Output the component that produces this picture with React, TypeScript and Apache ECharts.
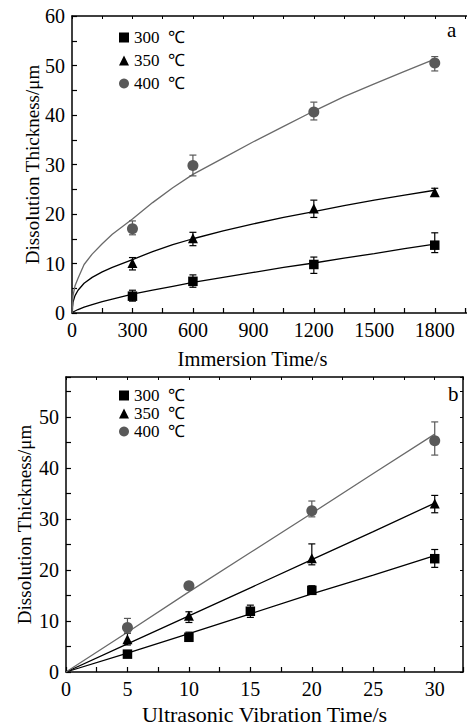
import React, { useEffect, useRef } from "react";
import * as echarts from "echarts";

// ---------- Panel a: immersion ----------
const aTimes = [300, 600, 1200, 1800];
const a300 = [3.4, 6.4, 9.8, 13.7];
const a300Lo = [2.4, 5.2, 8.0, 12.2];
const a300Hi = [4.6, 7.7, 11.3, 16.2];
const a350 = [10.1, 15.1, 21.1, 24.4];
const a350Lo = [8.7, 13.6, 19.3, 23.6];
const a350Hi = [11.2, 16.3, 22.8, 25.2];
const a400 = [17.0, 29.8, 40.6, 50.5];
const a400Lo = [15.8, 27.7, 39.0, 48.9];
const a400Hi = [18.6, 31.9, 42.6, 51.8];

const aFitT = [0, 5, 15, 30, 60, 100, 150, 200, 300, 400, 500, 600, 750, 900, 1050, 1200, 1350, 1500, 1650, 1800];
const aFit300 = [0, 0.2, 0.4, 0.7, 1.2, 1.7, 2.3, 2.8, 3.8, 4.6, 5.4, 6.2, 7.2, 8.2, 9.2, 10.1, 11.1, 12.0, 13.0, 13.9];
const aFit350 = [0, 2.2, 3.5, 4.6, 6.0, 7.2, 8.3, 9.2, 10.8, 12.4, 13.8, 15.0, 16.6, 18.0, 19.3, 20.5, 21.7, 22.8, 23.8, 24.8];
const aFit400 = [0, 3.5, 5.5, 7.0, 9.8, 11.9, 14.0, 15.9, 19.0, 22.3, 25.3, 28.0, 31.3, 34.6, 37.7, 40.8, 43.7, 46.3, 48.8, 51.3];

// ---------- Panel b: ultrasonic ----------
const b300Times = [5, 10, 15, 20, 30];
const b300 = [3.5, 6.8, 11.9, 16.0, 22.2];
const b300Lo = [3.0, 6.0, 10.7, 15.2, 20.5];
const b300Hi = [4.0, 7.8, 13.1, 16.9, 24.0];
const bTimes = [5, 10, 20, 30];
const b350 = [6.4, 11.0, 22.3, 33.0];
const b350Lo = [5.3, 9.7, 21.0, 31.2];
const b350Hi = [7.6, 11.8, 25.1, 34.6];
const b400 = [8.7, 16.9, 31.6, 45.3];
const b400Lo = [7.6, 16.2, 30.4, 42.5];
const b400Hi = [10.5, 17.5, 33.5, 49.0];

const bFitT = [0, 5, 10, 15, 20, 25, 30];
const bFit300 = [0, 3.7, 7.5, 11.4, 15.3, 19.0, 22.8];
const bFit350 = [0, 5.5, 11.0, 16.5, 22.0, 27.5, 33.1];
const bFit400 = [0, 7.8, 15.7, 23.4, 31.1, 38.9, 46.6];

const names = ["300  ℃", "350  ℃", "400  ℃"];
const aXTicks = [0, 300, 600, 900, 1200, 1500, 1800];
const bXTicks = [0, 5, 10, 15, 20, 25, 30];
const yTicksA = [0, 10, 20, 30, 40, 50, 60];
const yTicksB = [0, 10, 20, 30, 40, 50];

const FONT = "Liberation Serif";
const BLACK = "#000";
const GREY_MARK = "#595959";
const GREY_LINE = "#6a6a6a";

const zip = (xs: number[], ys: number[]) => xs.map((x, i) => [x, ys[i]]);
const zip3 = (xs: number[], lo: number[], hi: number[]) => xs.map((x, i) => [x, lo[i], hi[i]]);

function errSeries(name: string, idx: number, data: number[][], color: string) {
  return {
    name,
    type: "custom",
    xAxisIndex: idx,
    yAxisIndex: idx,
    encode: { x: 0, y: [1, 2] },
    data,
    z: 3,
    renderItem: (params: any, api: any) => {
      const x = api.value(0);
      const p1 = api.coord([x, api.value(1)]);
      const p2 = api.coord([x, api.value(2)]);
      const w = 3.5;
      const st = { stroke: color, lineWidth: 1.2 };
      return {
        type: "group",
        children: [
          { type: "line", shape: { x1: p1[0], y1: p1[1], x2: p2[0], y2: p2[1] }, style: st },
          { type: "line", shape: { x1: p1[0] - w, y1: p1[1], x2: p1[0] + w, y2: p1[1] }, style: st },
          { type: "line", shape: { x1: p2[0] - w, y1: p2[1], x2: p2[0] + w, y2: p2[1] }, style: st },
        ],
      };
    },
  };
}

function scatter(name: string, idx: number, data: number[][], symbol: string, size: number, color: string) {
  return {
    name,
    type: "scatter",
    xAxisIndex: idx,
    yAxisIndex: idx,
    symbol,
    symbolSize: size,
    itemStyle: { color, opacity: 1 },
    data,
    z: 4,
  };
}

function fit(name: string, idx: number, data: number[][], color: string) {
  return {
    name,
    type: "line",
    xAxisIndex: idx,
    yAxisIndex: idx,
    data,
    showSymbol: false,
    symbol: "none",
    lineStyle: { color, width: 1.3 },
    z: 2,
  };
}

function labelFmt(allowed: number[]) {
  return (v: number) => (allowed.some((a) => Math.abs(a - v) < 1e-6) ? String(v) : "");
}

const axisLine = { show: true, onZero: false, lineStyle: { color: BLACK, width: 1.5 } };
const labelStyle = { fontFamily: FONT, fontSize: 20, color: BLACK };
const legendText = { fontFamily: FONT, fontSize: 17, color: BLACK };

export default function App() {
  const ref = useRef<HTMLDivElement>(null);
  useEffect(() => {
    if (!ref.current) return;
    const chart = echarts.init(ref.current, undefined, { renderer: "svg" });
    const option: any = {
      animation: false,
      backgroundColor: "#fff",
      grid: [
        { left: 72, top: 16, width: 400, height: 297 },
        { left: 66, top: 377, width: 397, height: 296 },
      ],
      legend: [
        {
          data: names,
          orient: "vertical",
          left: 119,
          top: 29,
          padding: 0,
          itemWidth: 10,
          itemHeight: 10,
          itemGap: 6,
          textStyle: legendText,
        },
        {
          data: names,
          orient: "vertical",
          left: 119,
          top: 387,
          padding: 0,
          itemWidth: 10,
          itemHeight: 10,
          itemGap: 1,
          textStyle: legendText,
        },
      ],
      xAxis: [
        {
          type: "value", gridIndex: 0, min: 0, max: 1960, interval: 300,
          name: "Immersion Time/s", nameLocation: "middle", nameGap: 35, nameMoveOverlap: false,
          nameTextStyle: { fontFamily: FONT, fontSize: 20.5, color: BLACK, padding: [0, 34, 0, 0] },
          axisLine, axisTick: { inside: true, length: 5, lineStyle: { color: BLACK, width: 1.2 } },
          minorTick: { show: true, splitNumber: 2, length: 5, lineStyle: { color: BLACK, width: 1.2 } },
          axisLabel: { ...labelStyle, margin: 7, formatter: labelFmt(aXTicks), showMaxLabel: false },
          splitLine: { show: false },
        },
        {
          type: "value", gridIndex: 1, min: 0, max: 32.3, interval: 5,
          name: "Ultrasonic Vibration Time/s", nameLocation: "middle", nameGap: 31, nameMoveOverlap: false,
          nameTextStyle: { fontFamily: FONT, fontSize: 22, color: BLACK },
          axisLine, axisTick: { inside: true, length: 5, lineStyle: { color: BLACK, width: 1.2 } },
          minorTick: { show: true, splitNumber: 2, length: 5, lineStyle: { color: BLACK, width: 1.2 } },
          axisLabel: { ...labelStyle, margin: 7, formatter: labelFmt(bXTicks), showMaxLabel: false },
          splitLine: { show: false },
        },
        {
          type: "value", gridIndex: 0, position: "top", min: 0, max: 1960, interval: 150,
          axisLine, axisTick: { inside: true, length: 3, lineStyle: { color: BLACK, width: 1 } },
          axisLabel: { show: false }, splitLine: { show: false },
        },
        {
          type: "value", gridIndex: 1, position: "top", min: 0, max: 32.3, interval: 2.5,
          axisLine, axisTick: { inside: true, length: 3, lineStyle: { color: BLACK, width: 1 } },
          axisLabel: { show: false }, splitLine: { show: false },
        },
      ],
      yAxis: [
        {
          type: "value", gridIndex: 0, min: 0, max: 60, interval: 10,
          name: "Dissolution Thickness/μm", nameLocation: "middle", nameGap: 30, nameMoveOverlap: false,
          nameTextStyle: { fontFamily: FONT, fontSize: 19, color: BLACK },
          axisLine, axisTick: { inside: true, length: 5, lineStyle: { color: BLACK, width: 1.2 } },
          minorTick: { show: true, splitNumber: 2, length: 5, lineStyle: { color: BLACK, width: 1.2 } },
          axisLabel: { ...labelStyle, margin: 7, formatter: labelFmt(yTicksA) },
          splitLine: { show: false },
        },
        {
          type: "value", gridIndex: 1, min: 0, max: 57.8, interval: 10,
          name: "Dissolution Thickness/μm", nameLocation: "middle", nameGap: 32, nameMoveOverlap: false,
          nameTextStyle: { fontFamily: FONT, fontSize: 19, color: BLACK },
          axisLine, axisTick: { inside: true, length: 5, lineStyle: { color: BLACK, width: 1.2 } },
          minorTick: { show: true, splitNumber: 2, length: 5, lineStyle: { color: BLACK, width: 1.2 } },
          axisLabel: { ...labelStyle, margin: 7, formatter: labelFmt(yTicksB), showMaxLabel: false },
          splitLine: { show: false },
        },
        {
          type: "value", gridIndex: 1, position: "right", min: 0, max: 57.8, interval: 5,
          axisLine, axisTick: { inside: true, length: 3, lineStyle: { color: BLACK, width: 1 } },
          axisLabel: { show: false }, splitLine: { show: false },
        },
      ],
      graphic: [
        { type: "text", left: 447, top: 19, style: { text: "a", font: `21px '${FONT}'`, fill: BLACK } },
        { type: "text", left: 448, top: 383, style: { text: "b", font: `21px '${FONT}'`, fill: BLACK } },
      ],
      series: [
        fit("fit300a", 0, zip(aFitT, aFit300), BLACK),
        fit("fit350a", 0, zip(aFitT, aFit350), BLACK),
        fit("fit400a", 0, zip(aFitT, aFit400), GREY_LINE),
        errSeries("err300a", 0, zip3(aTimes, a300Lo, a300Hi), BLACK),
        errSeries("err350a", 0, zip3(aTimes, a350Lo, a350Hi), BLACK),
        errSeries("err400a", 0, zip3(aTimes, a400Lo, a400Hi), GREY_MARK),
        scatter(names[0], 0, zip(aTimes, a300), "rect", 9.5, BLACK),
        scatter(names[1], 0, zip(aTimes, a350), "triangle", 10, BLACK),
        scatter(names[2], 0, zip(aTimes, a400), "circle", 11, GREY_MARK),

        fit("fit300b", 1, zip(bFitT, bFit300), BLACK),
        fit("fit350b", 1, zip(bFitT, bFit350), BLACK),
        fit("fit400b", 1, zip(bFitT, bFit400), GREY_LINE),
        errSeries("err300b", 1, zip3(b300Times, b300Lo, b300Hi), BLACK),
        errSeries("err350b", 1, zip3(bTimes, b350Lo, b350Hi), BLACK),
        errSeries("err400b", 1, zip3(bTimes, b400Lo, b400Hi), GREY_MARK),
        scatter(names[0], 1, zip(b300Times, b300), "rect", 9.5, BLACK),
        scatter(names[1], 1, zip(bTimes, b350), "triangle", 10, BLACK),
        scatter(names[2], 1, zip(bTimes, b400), "circle", 11, GREY_MARK),
      ],
    };
    chart.setOption(option);
    return () => chart.dispose();
  }, []);
  return (
    <div
      ref={ref}
      style={{ position: "absolute", left: 0, top: 0, width: 467, height: 726, overflow: "hidden" }}
    />
  );
}
